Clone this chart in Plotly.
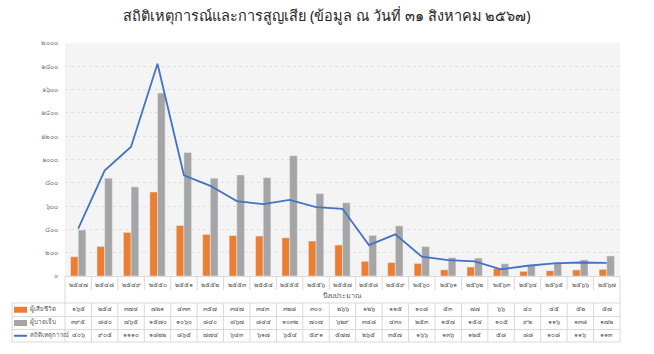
import plotly.graph_objects as go

TH = str.maketrans("0123456789", "๐๑๒๓๔๕๖๗๘๙")
def th(v):
    return str(v).translate(TH)

years = [2547 + i for i in range(21)]
categories = [th(y) for y in years]
deaths = [165, 254, 374, 721, 433, 357, 347, 343, 328, 300, 266, 126, 115, 108, 53, 77, 66, 40, 45, 52, 57]
injured = [395, 840, 765, 1570, 1060, 840, 867, 844, 1032, 707, 629, 348, 430, 253, 157, 154, 105, 92, 116, 138, 172]
incidents = [406, 905, 1110, 1822, 865, 774, 643, 617, 654, 591, 577, 265, 357, 166, 136, 125, 58, 88, 108, 116, 113]
series_names = ["ผู้เสียชีวิต", "ผู้บาดเจ็บ", "สถิติเหตุการณ์"]
y_ticks = list(range(0, 2001, 200))
title_text = "สถิติเหตุการณ์และการสูญเสีย (ข้อมูล ณ วันที่ ๓๑ สิงหาคม ๒๕๖๗)"
x_title = "ปีงบประมาณ"

ORANGE = "#ED7D31"
GRAY = "#A5A5A5"
BLUE = "#4472C4"
FONT = "Noto Sans, DejaVu Sans, sans-serif"

fig = go.Figure()
fig.add_trace(go.Bar(x=categories, y=deaths, name=series_names[0], marker_color=ORANGE))
fig.add_trace(go.Bar(x=categories, y=injured, name=series_names[1], marker_color=GRAY))
fig.add_trace(go.Scatter(x=categories, y=incidents, name=series_names[2], mode="lines",
                         line=dict(color=BLUE, width=1.8)))

W, H = 654, 354
L, R, T, B = 65, 34, 43, 78
ph = H - T - B
pw = W - L - R

def py(pix):
    return (H - B - pix) / ph

def px(pix):
    return (pix - L) / pw

shapes = []
annotations = []
line_col = "#D9D9D9"
txt_col = "#595959"
YS = -5  # text vertical correction for the Thai fallback font

# category label boxes
for i in range(len(categories) + 1):
    xx = i / len(categories)
    shapes.append(dict(type="line", xref="paper", yref="paper", x0=xx, x1=xx,
                       y0=py(276), y1=py(290), line=dict(color=line_col, width=1)))
# axis title box
shapes.append(dict(type="line", xref="paper", yref="paper", x0=0, x1=0, y0=py(290), y1=py(303),
                   line=dict(color=line_col, width=1)))
shapes.append(dict(type="line", xref="paper", yref="paper", x0=1, x1=1, y0=py(290), y1=py(303),
                   line=dict(color=line_col, width=1)))
annotations.append(dict(text=x_title, xref="paper", yref="paper", x=0.5, y=py(297), yshift=YS,
                        showarrow=False, font=dict(size=7, color=txt_col, family=FONT)))

# data table
row_edges = [303, 316.5, 329.5, 342]
left_pix = 12
for ye in row_edges:
    shapes.append(dict(type="line", xref="paper", yref="paper", x0=px(left_pix), x1=1,
                       y0=py(ye), y1=py(ye), line=dict(color=line_col, width=1)))
for i in range(len(categories) + 1):
    xx = i / len(categories)
    shapes.append(dict(type="line", xref="paper", yref="paper", x0=xx, x1=xx,
                       y0=py(303), y1=py(342), line=dict(color=line_col, width=1)))
shapes.append(dict(type="line", xref="paper", yref="paper", x0=px(left_pix), x1=px(left_pix),
                   y0=py(303), y1=py(342), line=dict(color=line_col, width=1)))

rows = [deaths, injured, incidents]
colors = [ORANGE, GRAY, BLUE]
for r, (vals, c, nm) in enumerate(zip(rows, colors, series_names)):
    yc = (row_edges[r] + row_edges[r + 1]) / 2
    if r < 2:
        shapes.append(dict(type="rect", xref="paper", yref="paper", x0=px(14), x1=px(27),
                           y0=py(yc + 3), y1=py(yc - 3), fillcolor=c, line=dict(width=0)))
    else:
        shapes.append(dict(type="line", xref="paper", yref="paper", x0=px(14), x1=px(27),
                           y0=py(yc), y1=py(yc), line=dict(color=c, width=2)))
    annotations.append(dict(text=nm, xref="paper", yref="paper", x=px(28), y=py(yc), yshift=YS,
                            xanchor="left", showarrow=False,
                            font=dict(size=6.3, color=txt_col, family=FONT)))
    for cat, v in zip(categories, vals):
        annotations.append(dict(text=th(v), xref="x", yref="paper", x=cat, y=py(yc), yshift=YS,
                                showarrow=False, font=dict(size=6.5, color=txt_col, family=FONT)))

fig.update_layout(
    width=W, height=H,
    margin=dict(l=L, r=R, t=T, b=B),
    paper_bgcolor="white",
    plot_bgcolor="#F4F4F4",
    showlegend=False,
    barmode="group",
    bargap=0.42,
    bargroupgap=0,
    title=dict(text=title_text, x=0.5, xanchor="center", y=0.955, yanchor="middle",
               font=dict(size=14.5, color="#262626", family=FONT)),
    font=dict(family=FONT),
    shapes=shapes,
    annotations=annotations,
)
fig.update_yaxes(range=[0, 2000], tickvals=y_ticks, ticktext=[th(v) for v in y_ticks],
                 tickfont=dict(size=7, color="#808080"), gridcolor="#E0E0E0", griddash="dot",
                 zeroline=False, showline=False, ticks="", ticklabelstandoff=6)
fig.update_xaxes(tickfont=dict(size=6.5, color=txt_col), showline=True, linecolor=line_col,
                 ticks="", showgrid=False, ticklabelstandoff=2)

fig.write_html("out.html")
